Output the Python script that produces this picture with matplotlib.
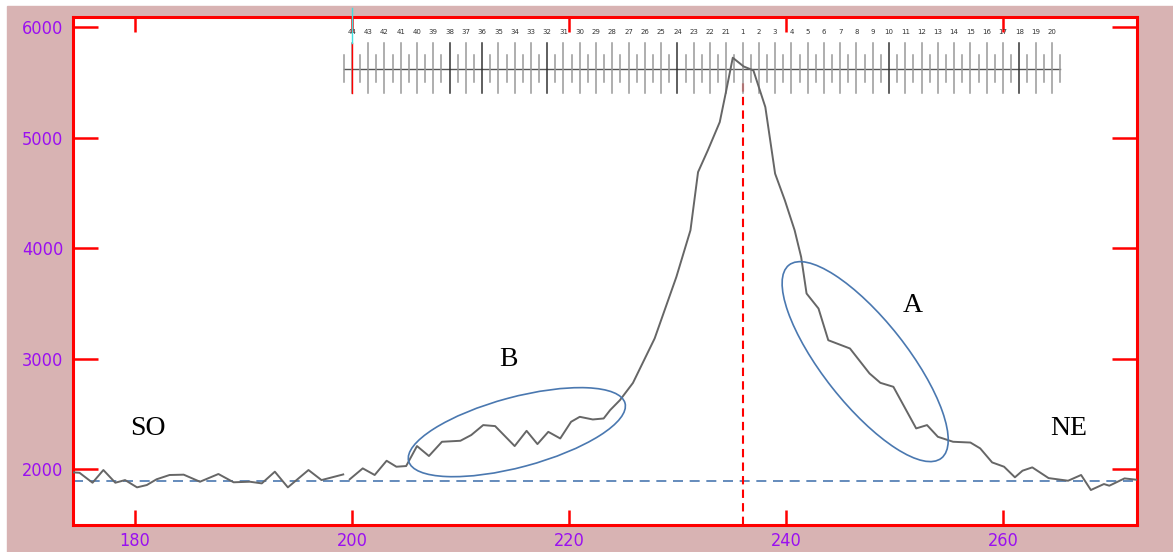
import matplotlib
matplotlib.use('Agg')
import numpy as np
import matplotlib.pyplot as plt
from matplotlib.patches import Ellipse, Rectangle
from matplotlib.transforms import IdentityTransform

# perfil
dist_x = [174.3, 174.9, 176.1, 177.1, 178.2, 179.1, 180.2, 181.1, 182.0, 183.2,
          184.5, 186.0, 187.7, 189.1, 190.6, 191.7, 192.9, 194.1, 196.0, 197.2,
          199.2, 199.5, 199.8, 201.0, 202.1, 203.2, 204.1, 205.0, 206.0, 207.1,
          208.3, 210.0, 211.0, 212.1, 213.2, 215.0, 216.1, 217.1, 218.1, 219.2,
          220.2, 221.0, 222.2, 223.2, 223.8, 224.7, 225.9, 227.9, 229.9, 231.2,
          231.9, 232.8, 233.9, 234.5, 235.1, 236.1, 237.0, 238.1, 239.0, 239.9,
          240.8, 241.4, 241.9, 243.0, 243.9, 245.9, 247.7, 248.7, 249.9, 252.0,
          253.0, 254.0, 255.4, 257.0, 257.9, 259.0, 260.1, 261.1, 261.8, 262.7,
          264.2, 266.0, 267.2, 268.1, 269.3, 269.8, 271.2, 272.3]
intensity = [1970, 1966, 1876, 1991, 1876, 1900, 1834, 1855, 1907, 1946,
             1949, 1885, 1955, 1880, 1885, 1870, 1976, 1834, 1991, 1900,
             1951, np.nan, 1907, 2006, 1946, 2075, 2021, 2027, 2208, 2118,
             2247, 2256, 2308, 2398, 2389, 2208, 2346, 2226, 2337, 2277,
             2428, 2473, 2449, 2458, 2534, 2624, 2780, 3183, 3740, 4163,
             4690, 4887, 5143, 5430, 5726, 5647, 5611, 5279, 4676, 4434,
             4163, 3921, 3590, 3454, 3167, 3092, 2866, 2781, 2745, 2368,
             2398, 2292, 2247, 2240, 2187, 2060, 2021, 1925, 1985, 2015,
             1918, 1894, 1946, 1810, 1864, 1849, 1915, 1903]

x_ticks = [180, 200, 220, 240, 260]
y_ticks = [2000, 3000, 4000, 5000, 6000]
baseline = 1895
center_x = 236

# escala superior
ruler_labels = [str(n) for n in range(44, 20, -1)] + [str(n) for n in range(1, 21)]
ruler_start = 200
ruler_step = 1.5
ruler_dark = ['38', '36', '32', '24', '10', '18']

purple = '#9A10F0'
pink = '#D8B3B3'

fig = plt.figure(figsize=(11.73, 5.52), dpi=100)
fig.patch.set_facecolor('white')
fig.patches.append(Rectangle((7 / 1173, 0), 1, (552 - 6) / 552,
                             transform=fig.transFigure, color=pink, zorder=-10))

ax = fig.add_axes([73 / 1173, 27 / 552, (1137 - 73) / 1173, (525 - 17) / 552])
ax.set_facecolor('white')
ax.set_xlim(174.3, 272.35)
ax.set_ylim(1493, 6095)

for s in ax.spines.values():
    s.set_color('red')
    s.set_linewidth(2.2)

ax.set_xticks(x_ticks)
ax.set_yticks(y_ticks)
ax.tick_params(axis='y', direction='in', length=18, width=1.8, color='red',
               right=True, pad=7, labelcolor=purple, labelsize=13)
ax.tick_params(axis='x', direction='in', length=11, width=1.8, color='red',
               top=True, pad=5, labelcolor=purple, labelsize=13)
for lab in ax.get_xticklabels() + ax.get_yticklabels():
    lab.set_family(['Liberation Sans Narrow', 'DejaVu Sans'])
    lab.set_stretch('condensed')
ax.xaxis.get_major_ticks()[1].tick1line.set_color('#7A1A1A')
ax.xaxis.get_major_ticks()[1].tick2line.set_color('#222222')

# lineas de referencia
ax.axhline(baseline, color='#4A78B0', lw=1.2, ls=(0, (6, 4)), zorder=2)
ax.plot([center_x, center_x], [1493, 5525], color='red', lw=1.5,
        ls=(0, (4, 2.5)), zorder=2)

# escala
rx = [ruler_start + ruler_step * i for i in range(len(ruler_labels))]
ax.plot([rx[0] - ruler_step / 2, rx[-1] + ruler_step / 2], [5624, 5624],
        color='#555555', lw=1, zorder=3)
for i, x in enumerate(rx):
    c = '#333333' if ruler_labels[i] in ruler_dark else '#999999'
    ax.plot([x, x], [5407, 5860], color=c, lw=1.1, zorder=3)
    ax.text(x, 5960, ruler_labels[i], fontsize=5, ha='center', va='center',
            color='#333333')
for x in [r - ruler_step / 2 for r in rx] + [rx[-1] + ruler_step / 2]:
    ax.plot([x, x], [5506, 5751], color='#999999', lw=1.1, zorder=3)
ax.plot([ruler_start, ruler_start], [5407, 5860], color='red', lw=1, zorder=4)
ax.plot([ruler_start, ruler_start], [5860, 6180], color='#40E0E0', lw=1,
        zorder=4, clip_on=False)

# perfil
ax.plot(dist_x, intensity, color='#666666', lw=1.4, zorder=5)

# elipses (en pixeles)
cb = ax.transData.transform((215.2, 2334))
ca = ax.transData.transform((247.3, 2973))
ax.add_patch(Ellipse(cb, 224, 70, angle=15, transform=IdentityTransform(),
                     fill=False, ec='#4A78B0', lw=1.2, zorder=6))
ax.add_patch(Ellipse(ca, 246, 84, angle=-51.7, transform=IdentityTransform(),
                     fill=False, ec='#4A78B0', lw=1.2, zorder=6))

serif = ['Liberation Serif', 'DejaVu Serif']
ax.text(181.2, 2363, 'SO', fontsize=20, family=serif, ha='center', va='center')
ax.text(214.4, 2988, 'B', fontsize=20, family=serif, ha='center', va='center')
ax.text(251.7, 3477, 'A', fontsize=20, family=serif, ha='center', va='center')
ax.text(266.1, 2363, 'NE', fontsize=20, family=serif, ha='center', va='center')

plt.savefig('out.png', dpi=100)
